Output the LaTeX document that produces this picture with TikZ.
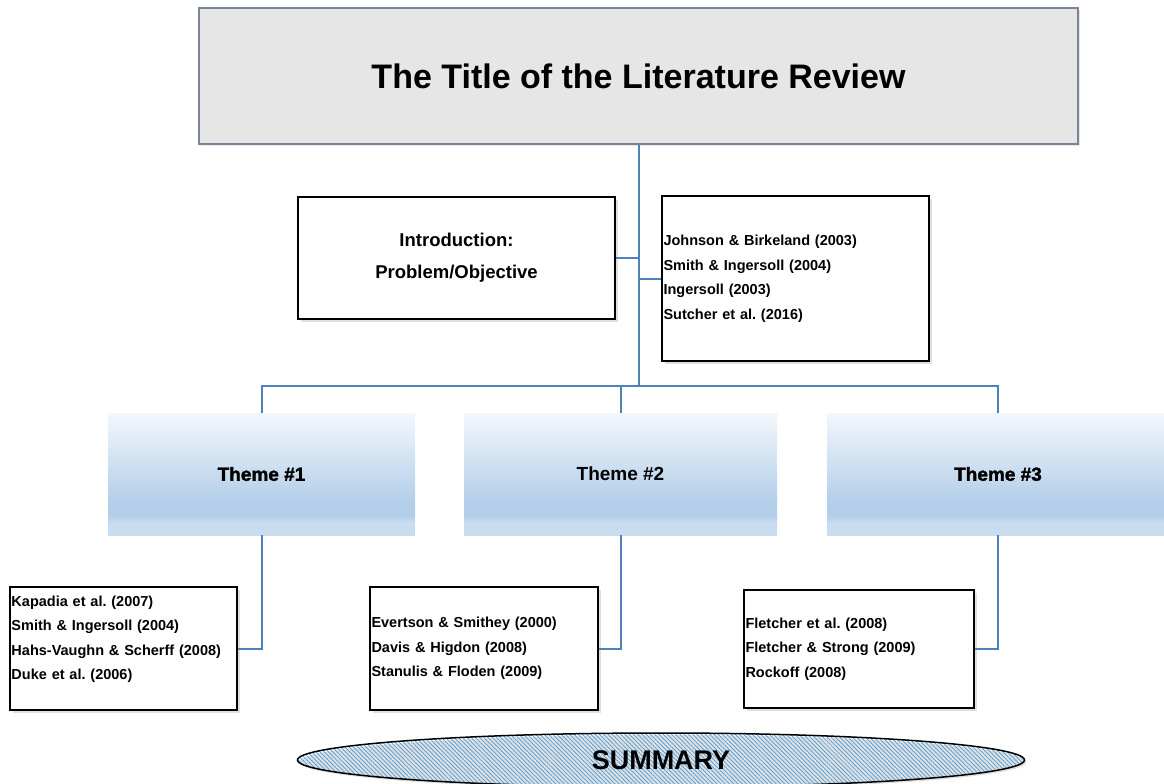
\documentclass[tikz,border=0pt]{standalone}
\usepackage{fontspec}
\setmainfont{Liberation Sans}
\newfontfamily\heavysf{Liberation Sans}[BoldFeatures={FakeBold=1.6}]
\usetikzlibrary{shapes.geometric,patterns.meta,shadows}

\definecolor{linkblue}{HTML}{4F81BD}
\definecolor{titlefill}{HTML}{E6E6E6}
\definecolor{titleline}{HTML}{7A8599}
\definecolor{themetop}{HTML}{F3F7FC}
\definecolor{thememid}{HTML}{B2CEE9}
\definecolor{themelow}{HTML}{C9DDF1}
\definecolor{hatchblue}{HTML}{4A9BDA}

% light top, deeper blue low, paler strip at the bottom edge
\pgfdeclareverticalshading{themefill}{100bp}{color(0bp)=(themelow); color(30bp)=(themelow);
  color(33bp)=(thememid); color(38bp)=(thememid); color(75bp)=(themetop); color(100bp)=(themetop)}

\tikzset{
  link/.style={draw=linkblue,line width=2pt},
  refbox/.style={draw,line width=1.2pt,fill=white,align=left,inner xsep=1.5pt,
    drop shadow={opacity=0.25,shadow xshift=3pt,shadow yshift=-3pt},
    font=\bfseries\fontsize{14.5}{24.5}\selectfont},
  themebox/.style={shading=themefill,minimum height=122pt,
    font=\bfseries\fontsize{19}{22}\selectfont}
}

\frenchspacing

\begin{document}
\begin{tikzpicture}[x=1pt,y=-1pt]
  \useasboundingbox (0,0) rectangle (1164,784);

  \node[draw=titleline,line width=2pt,fill=titlefill,minimum width=879pt,minimum height=136pt,
    drop shadow={opacity=0.2,shadow xshift=2pt,shadow yshift=-2pt},
    font=\bfseries\fontsize{34}{40}\selectfont] (title) at (638.5,76) {The Title of the Literature Review};

  \begin{scope}[every node/.style={refbox}]
    \node[align=center,minimum width=317pt,minimum height=122pt,
      font=\bfseries\fontsize{18.5}{32}\selectfont] (intro) at (456.5,258)
      {Introduction:\\Problem/Objective};
    \node[text width=264pt,minimum height=165pt] (introrefs) at (795.5,278.5)
      {Johnson \& Birkeland (2003)\\Smith \& Ingersoll (2004)\\Ingersoll (2003)\\Sutcher et al. (2016)};
    \node[text width=224pt,minimum height=123pt] (refs1) at (123.5,648.5)
      {Kapadia et al. (2007)\\Smith \& Ingersoll (2004)\\Hahs-Vaughn \& Scherff (2008)\\Duke et al. (2006)\\[-10pt]\strut};
    \node[text width=225pt,minimum height=123pt] (refs2) at (484,648.5)
      {Evertson \& Smithey (2000)\\Davis \& Higdon (2008)\\Stanulis \& Floden (2009)};
    \node[text width=227pt,minimum height=118pt] (refs3) at (859,649)
      {Fletcher et al. (2008)\\Fletcher \& Strong (2009)\\Rockoff (2008)};
  \end{scope}

  \begin{scope}[every node/.style={themebox}]
    \node[minimum width=307pt] (theme1) at (261.5,474) {\heavysf Theme \#1};
    \node[minimum width=313pt] (theme2) at (620.5,474) {Theme \#2};
    \node[minimum width=342pt] (theme3) at (998,474) {\heavysf Theme \#3};
  \end{scope}

  \coordinate (hub) at (639,386);

  \draw[link] (hub |- title.south) -- (hub);
  \draw[link] (intro.east) -- (intro.east -| hub);
  \draw[link] (introrefs.west) -- (introrefs.west -| hub);
  \draw[link] (theme1.north) |- (hub) -| (theme3.north);
  \draw[link] (theme2.north |- hub) -- (theme2.north);
  \draw[link] (theme1.south) |- (refs1.east);
  \draw[link] (theme2.south) |- (refs2.east);
  \draw[link] (theme3.south) |- (refs3.east);

  \node[ellipse,draw,line width=1.5pt,minimum width=727pt,minimum height=54pt,
    pattern={Lines[angle=-45,distance=3pt,line width=0.7pt]},pattern color=hatchblue,
    drop shadow={opacity=0.25,shadow xshift=2pt,shadow yshift=-2pt},
    font=\bfseries\fontsize{27}{30}\selectfont] (summary) at (661,760) {SUMMARY};
\end{tikzpicture}
\end{document}
